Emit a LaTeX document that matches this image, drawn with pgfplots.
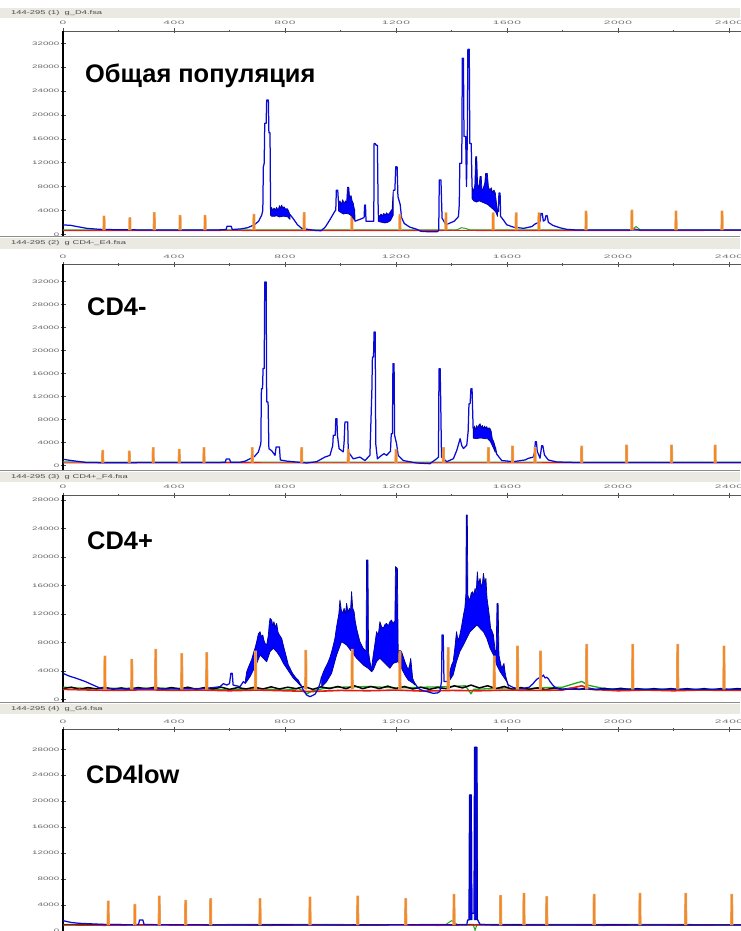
\documentclass[border=0pt]{standalone}
\usepackage{fontspec}
\setmainfont{Liberation Sans}
\newfontfamily\ytickfont[FakeStretch=1.95]{Liberation Sans}
\newfontfamily\xtickfont[FakeStretch=2.4,LetterSpace=10]{Liberation Sans}
\newfontfamily\hdrfont[FakeStretch=1.7]{Liberation Sans}
\usepackage{pgfplots}
\pgfplotsset{compat=1.18}

\definecolor{trace}{RGB}{10,10,215}
\definecolor{tracedark}{RGB}{0,0,150}
\definecolor{bandfill}{RGB}{0,0,255}
\definecolor{sizestd}{RGB}{250,135,30}
\definecolor{sizeedge}{RGB}{220,170,120}
\definecolor{hdr}{RGB}{234,234,226}
\definecolor{basered}{RGB}{225,30,20}
\definecolor{basegreen}{RGB}{30,170,30}

\pgfplotsset{
  gelpanel/.style={
    scale only axis, width=693.75pt, xmin=0, xmax=2500,
    axis x line*=top, axis y line*=left, separate axis lines,
    every outer x axis line/.append style={-, draw=black!65, line width=0.6pt},
    every outer y axis line/.append style={-, draw=black, line width=1.4pt},
    xtick={0,400,...,2400}, minor xtick={200,600,...,2200},
    xtick align=center, ytick align=center,
    major tick length=5pt, minor tick length=2.5pt,
    x tick style={draw=black!70, line width=0.6pt},
    y tick style={draw=black!70, line width=0.5pt},
    minor y tick num=1,
    xticklabel style={font=\xtickfont\fontsize{5}{5}\selectfont, text=black!55},
    yticklabel style={font=\ytickfont\fontsize{5}{5}\selectfont, text=black!60, inner sep=1pt},
    /pgf/number format/1000 sep={}, /pgf/number format/assume math mode=true,
    scaled y ticks=false,
    unbounded coords=jump, clip=true,
  },
  blue trace/.style={draw=trace, line width=1.25pt, line join=round},
  blue band/.style={draw=tracedark, line width=0.7pt, fill=bandfill, line join=round},
  size std/.style={draw=sizestd, line width=1.1pt, preaction={draw=sizeedge, line width=2.2pt}},
  red base/.style={draw=basered, line width=1.1pt},
  green base/.style={draw=basegreen, line width=1pt},
  black base/.style={draw=black, line width=1.5pt},
}

\begin{document}
\begin{tikzpicture}
\useasboundingbox (0pt,0pt) rectangle (740pt,-931pt);
\fill[white] (0pt,0pt) rectangle (740pt,-931pt);
% file header strips
\fill[hdr] (0pt,-8pt) rectangle (740pt,-18pt);
\fill[hdr] (0pt,-238pt) rectangle (740pt,-249pt);
\fill[hdr] (0pt,-472pt) rectangle (740pt,-482pt);
\fill[hdr] (0pt,-704pt) rectangle (740pt,-714pt);
\node[anchor=west, inner sep=0pt, text=black!70, font=\hdrfont\fontsize{5.5}{6}\selectfont] at (11pt,-13pt) {144-295 (1)\ \ g\_D4.fsa};
\node[anchor=west, inner sep=0pt, text=black!70, font=\hdrfont\fontsize{5.5}{6}\selectfont] at (11pt,-243.5pt) {144-295 (2)\ \ g CD4-\_E4.fsa};
\node[anchor=west, inner sep=0pt, text=black!70, font=\hdrfont\fontsize{5.5}{6}\selectfont] at (11pt,-477pt) {144-295 (3)\ \ g CD4+\_F4.fsa};
\node[anchor=west, inner sep=0pt, text=black!70, font=\hdrfont\fontsize{5.5}{6}\selectfont] at (11pt,-709pt) {144-295 (4)\ \ g\_G4.fsa};

% ---------------- panel 1: total population ----------------
\begin{axis}[gelpanel, at={(63pt,-31pt)}, anchor=north west,
  height=205pt, ymin=-285, ymax=34060, ytick={0,4000,...,32000}]
\addplot[green base] coordinates {(0,760)(400,740)(800,760)(1200,740)(1420,760)(1435,1100)(1450,1000)(1465,760)(2050,760)(2065,1300)(2080,760)(2500,750)};
\addplot[red base] coordinates {(0,620)(200,640)(400,620)(600,650)(800,630)(1000,640)(1200,620)(1400,650)(1600,640)(1800,630)(2040,640)(2060,900)(2080,640)(2500,650)};
\addplot[size std] coordinates {(1039,700)(1040,3200)(1042,3200)(1043,700)};
\addplot[blue trace] coordinates {
(0,1560)(25,1520)(50,1300)(85,1000)(133,830)(200,760)(300,730)(450,720)(560,730)(588,800)(591,1350)(606,1350)(610,800)(640,900)(665,1100)(690,1600)(705,2200)(716,3200)(720,4000)(722,11300)(725,11900)(727,18600)(732,18600)(734,22500)(740,22500)(742,17000)(746,17000)(748,4200)
(780,nan)
(818,3300)(830,2600)(845,1600)(860,1000)(880,840)(910,650)(930,600)(945,1200)(960,2300)(975,3500)(983,4100)(985,7400)(990,7400)(993,5200)
(1020,nan)
(1050,4200)(1052,2200)(1070,2500)(1085,2800)(1087,4900)(1090,4900)(1092,2200)(1110,2200)(1120,2200)(1121,15200)(1125,15200)(1129,14900)(1133,14900)(1136,3300)
(1160,nan)
(1190,7400)(1196,7400)(1199,11300)(1204,11300)(1207,6300)(1215,5000)(1220,2800)(1230,1800)(1250,1200)(1275,840)(1290,500)(1320,420)(1350,450)(1354,700)(1356,9100)(1362,9100)(1366,2700)(1380,1600)(1395,1900)(1410,2200)(1425,2960)(1428,5000)(1430,11900)(1437,11900)(1439,29500)(1443,29500)(1445,16400)(1451,16400)(1454,8000)(1457,16000)(1459,31000)(1464,31000)(1466,15200)(1471,15200)(1474,8000)
(1520,nan)
(1566,4000)(1569,3800)(1571,6900)(1575,6900)(1577,3000)(1587,2400)(1599,1600)(1623,1200)(1660,1000)(1690,1300)(1700,1700)(1719,2100)(1722,3500)(1727,3500)(1731,2200)(1737,2400)(1740,3100)(1745,3100)(1749,2000)(1765,1500)(1790,1100)(1815,830)(1850,720)(2000,700)(2500,700)};
\addplot[blue band] coordinates {(748,4200)(752,4500)(756,3900)(760,4400)(765,4100)(770,4500)(775,4000)(780,4800)(784,4400)(788,4900)(792,4400)(797,4600)(802,4200)(808,4300)(812,4000)(818,3300)(818,2500)(810,2900)(800,3000)(790,3000)(780,2900)(770,3100)(760,3000)(752,3000)(748,3200)} --cycle;
\addplot[blue band] coordinates {(993,5200)(998,5600)(1003,5000)(1008,5800)(1013,5100)(1018,5600)(1022,5200)(1025,7900)(1030,7900)(1033,6000)(1038,6500)(1042,5600)(1046,5200)(1050,4200)(1050,2400)(1040,3100)(1030,3400)(1020,3500)(1010,3400)(1000,3700)(993,3900)} --cycle;
\addplot[blue band] coordinates {(1136,3300)(1141,3000)(1146,3400)(1151,3100)(1156,3500)(1161,3200)(1166,3600)(1171,3300)(1176,3500)(1181,3900)(1186,4200)(1190,7400)(1190,3200)(1180,2300)(1170,2000)(1160,1900)(1150,2000)(1140,2100)(1136,2200)} --cycle;
\addplot[blue band] coordinates {(1474,8000)(1479,7200)(1484,8200)(1487,13000)(1491,13000)(1494,8500)(1498,7600)(1503,9700)(1507,9700)(1510,7200)(1515,7800)(1520,8600)(1523,10200)(1529,10200)(1533,8000)(1538,7300)(1543,7800)(1548,7000)(1553,7400)(1558,6900)(1562,5200)(1566,4000)(1566,3000)(1560,3700)(1550,4200)(1540,4600)(1530,5000)(1520,5200)(1510,5400)(1500,5600)(1490,5400)(1480,5600)(1474,6000)} --cycle;
\addplot[size std] coordinates {
(146,700)(147,2960)(149,2960)(150,700)(150,nan)
(239,700)(240,2680)(242,2680)(243,700)(243,nan)
(327,700)(328,3520)(330,3520)(331,700)(331,nan)
(420,700)(421,3070)(423,3070)(424,700)(424,nan)
(510,700)(511,3070)(513,3070)(514,700)(514,nan)
(686,700)(687,3240)(689,3240)(690,700)(690,nan)
(867,700)(868,3520)(870,3520)(871,700)(871,nan)
(1212,700)(1213,3240)(1215,3240)(1216,700)(1216,nan)
(1378,700)(1379,3500)(1381,3500)(1382,700)(1382,nan)
(1548,700)(1549,3500)(1551,3500)(1552,700)(1552,nan)
(1631,700)(1632,3500)(1634,3500)(1635,700)(1635,nan)
(1713,700)(1714,3500)(1716,3500)(1717,700)(1717,nan)
(1883,700)(1884,3800)(1886,3800)(1887,700)(1887,nan)
(2048,700)(2049,3960)(2051,3960)(2052,700)(2052,nan)
(2207,700)(2208,3800)(2210,3800)(2211,700)(2211,nan)
(2373,700)(2374,3800)(2376,3800)(2377,700)};
\end{axis}

% ---------------- panel 2: CD4- ----------------
\begin{axis}[gelpanel, at={(63pt,-264.3pt)}, anchor=north west,
  height=206.7pt, ymin=-922, ymax=35026, ytick={0,4000,...,32000}]
\addplot[green base] coordinates {(0,650)(400,620)(800,640)(1200,620)(1600,640)(2000,630)(2500,620)};
\addplot[red base] coordinates {(0,500)(300,480)(600,520)(900,480)(1200,500)(1500,490)(1800,510)(2100,500)(2500,500)};
\addplot[blue trace] coordinates {
(0,1110)(30,900)(84,560)(150,520)(300,540)(450,550)(560,560)(585,600)(588,1160)(600,1160)(604,600)(640,620)(657,800)(674,1220)(690,1600)(704,2380)(713,3830)(715,13400)(719,13400)(721,16900)(725,16900)(727,31950)(732,31950)(734,11080)(739,11080)(742,2960)(752,2600)(764,1810)(768,3250)(780,3250)(783,1000)(806,800)(850,600)(878,470)(914,700)(944,1510)(962,1800)(972,3500)(974,5280)(981,5280)(983,8180)(987,8180)(989,5280)(995,2960)(1010,2400)(1013,4120)(1016,7600)(1026,7600)(1028,2400)(1046,1200)(1070,1500)(1088,900)(1106,1800)(1113,13000)(1115,18900)(1119,18900)(1121,23250)(1125,23250)(1127,3830)(1133,1200)(1148,1800)(1157,2090)(1166,1800)(1180,2500)(1183,5570)(1187,5570)(1189,17750)(1193,17750)(1195,5280)(1202,3830)(1208,1800)(1226,900)(1274,470)(1322,350)(1347,1220)(1353,1500)(1355,16875)(1359,16875)(1361,11600)(1364,1500)(1383,700)(1407,1220)(1419,2670)(1431,4700)(1437,3500)(1443,3000)(1455,3550)(1460,6000)(1463,10790)(1467,10790)(1470,13400)(1474,13400)(1478,6400)
(1500,nan)
(1558,3200)(1563,2000)(1581,900)(1623,700)(1665,1000)(1677,1280)(1695,1500)(1700,2500)(1702,4180)(1706,4180)(1709,2500)(1719,1300)(1725,3480)(1729,3480)(1735,1850)(1749,1000)(1779,650)(1850,560)(2500,550)};
\addplot[blue band] coordinates {(1478,6400)(1483,6900)(1487,6200)(1491,7000)(1495,6500)(1499,7100)(1503,7310)(1507,6600)(1511,7000)(1515,6400)(1519,6900)(1523,6500)(1527,6800)(1531,6300)(1535,6600)(1539,6440)(1543,6000)(1547,4700)(1552,4200)(1558,3200)(1558,2300)(1550,3200)(1540,4200)(1530,4700)(1520,4700)(1510,4800)(1500,4800)(1490,4700)(1478,4800)} --cycle;
\addplot[size std] coordinates {
(141,550)(142,2560)(144,2560)(145,550)(145,nan)
(237,550)(238,2440)(240,2440)(241,550)(241,nan)
(323,550)(324,3020)(326,3020)(327,550)(327,nan)
(417,550)(418,2730)(420,2730)(421,550)(421,nan)
(506,550)(507,3020)(509,3020)(510,550)(510,nan)
(680,550)(681,3020)(683,3020)(684,550)(684,nan)
(858,550)(859,3020)(861,3020)(862,550)(862,nan)
(1026,550)(1027,2730)(1029,2730)(1030,550)(1030,nan)
(1198,550)(1199,2730)(1201,2730)(1202,550)(1202,nan)
(1369,550)(1370,3020)(1372,3020)(1373,550)(1373,nan)
(1531,550)(1532,3020)(1534,3020)(1535,550)(1535,nan)
(1618,550)(1619,3310)(1621,3310)(1622,550)(1622,nan)
(1699,550)(1700,3020)(1702,3020)(1703,550)(1703,nan)
(1867,550)(1868,3310)(1870,3310)(1871,550)(1871,nan)
(2029,550)(2030,3480)(2032,3480)(2033,550)(2033,nan)
(2191,550)(2192,3480)(2194,3480)(2195,550)(2195,nan)
(2348,550)(2349,3480)(2351,3480)(2352,550)};
\end{axis}

% ---------------- panel 3: CD4+ ----------------
\begin{axis}[gelpanel, at={(63pt,-495pt)}, anchor=north west,
  height=207pt, ymin=-379, ymax=28702, ytick={0,4000,...,28000}]
\addplot[green base, line width=1.3pt] coordinates {(0,1700)(100,1500)(300,1600)(500,1500)(600,1300)(700,1500)(800,1300)(850,1500)(880,800)(900,1200)(950,1600)(1000,1700)(1100,1800)(1200,1600)(1300,1700)(1400,1800)(1450,1900)(1470,800)(1480,1400)(1600,1600)(1650,1300)(1700,1600)(1800,1700)(1850,2300)(1870,2500)(1890,2000)(1950,1500)(2100,1450)(2300,1400)(2500,1400)};
\addplot[black base] coordinates {(0,1500)(30,1700)(60,1400)(90,1650)(120,1450)(150,1700)(180,1400)(210,1600)(240,1350)(270,1650)(300,1450)(330,1700)(360,1400)(390,1650)(420,1450)(450,1700)(480,1400)(510,1650)(540,1450)(570,1700)(600,1400)(630,1650)(660,1450)(690,1700)(720,1450)(750,1750)(780,1450)(810,1700)(840,1500)(870,1800)(900,1400)(930,1750)(960,1500)(990,1800)(1020,1500)(1050,1900)(1080,1500)(1110,1800)(1140,1500)(1170,1850)(1200,1500)(1230,1800)(1260,1450)(1290,1700)(1320,1400)(1350,1650)(1380,1500)(1410,1900)(1440,1600)(1470,2000)(1500,1600)(1530,1900)(1560,1500)(1590,1800)(1620,1400)(1650,1650)(1680,1400)(1710,1600)(1740,1350)(1770,1600)(1800,1400)(1830,1550)(1860,1400)(1890,1600)(1920,1350)(1950,1550)(1980,1350)(2010,1550)(2040,1350)(2070,1500)(2100,1300)(2130,1500)(2160,1300)(2190,1500)(2220,1350)(2250,1500)(2280,1300)(2310,1500)(2340,1300)(2370,1500)(2400,1350)(2430,1500)(2460,1400)};
\addplot[red base, line width=1.6pt] coordinates {(0,1400)(100,1300)(200,1250)(300,1350)(400,1250)(500,1300)(600,1200)(700,1300)(800,1200)(900,1100)(1000,1250)(1100,1200)(1200,1300)(1300,1150)(1400,1250)(1500,1200)(1600,1300)(1700,1250)(1800,1300)(1870,1900)(1900,1400)(2000,1200)(2100,1300)(2200,1200)(2300,1300)(2400,1250)(2500,1300)};
\addplot[blue trace] coordinates {
(0,3650)(20,3300)(48,2950)(80,2500)(108,2010)(132,1600)(200,1450)(300,1500)(400,1450)(500,1500)(541,1650)(566,1780)(578,2200)(590,2000)(600,2200)(605,3650)(610,3650)(613,2000)(638,1780)(650,2480)(656,2300)
(700,nan)
(856,2100)(866,1300)(878,600)(890,370)(908,700)(920,1540)(926,2200)(932,3180)
(1000,nan)
(1268,2240)(1280,1540)(1292,1300)(1310,1100)(1334,840)(1350,900)(1358,1100)(1364,2500)(1366,9030)(1370,9030)(1373,2500)(1388,2500)(1394,3880)
(1500,nan)
(1605,2010)(1623,1650)(1640,1500)(1660,1550)(1680,1700)(1695,2240)(1700,2500)(1707,2800)(1715,3000)(1723,3100)(1731,3410)(1737,3000)(1743,3100)(1749,2900)(1755,2500)(1765,2000)(1773,1700)(1791,1400)(1850,1400)(2500,1400)};
\addplot[blue band] coordinates {(656,2300)(662,3880)(668,4500)(674,5050)(680,5600)(686,6460)(692,7200)(698,8100)(704,9200)(710,9500)(715,8800)(720,9030)(724,8300)(728,7860)(734,7630)(740,9000)(743,10500)(746,11370)(752,11140)(756,10300)(760,10900)(765,10100)(770,10670)(775,9400)(780,9030)(788,8570)(794,7600)(800,6690)(806,5800)(812,4820)(818,4400)(824,3880)(830,3500)(836,3180)(842,2900)(848,2710)(854,2240)(856,2100)(856,1900)(854,2010)(842,2480)(830,2950)(818,3650)(806,4350)(794,5050)(782,5990)(770,6690)(758,7160)(746,6690)(734,5280)(722,5755)(710,6220)(698,5050)(686,4120)(674,3180)(662,2480)(656,2200)} --cycle;
\addplot[blue band] coordinates {(932,3180)(938,3800)(944,4350)(950,4800)(956,5290)(962,5900)(968,6690)(974,7600)(980,8570)(985,10000)(989,10900)(994,12000)(998,13950)(1003,12500)(1008,12080)(1013,12800)(1018,12000)(1022,13480)(1027,12200)(1032,12780)(1036,12400)(1040,15120)(1044,12800)(1049,12310)(1053,11000)(1058,9970)(1064,9000)(1070,8100)(1076,7600)(1082,7160)(1088,6900)(1092,6690)(1094,19570)(1099,19570)(1101,6690)(1106,5290)(1112,4350)(1112,3880)(1100,4350)(1082,4820)(1058,5755)(1040,6690)(1022,7630)(1004,8100)(986,6220)(968,3650)(950,2480)(932,1780)} --cycle;
\addplot[blue band] coordinates {(1112,4350)(1118,6220)(1124,7800)(1130,9500)(1136,9000)(1142,10900)(1148,10200)(1154,9970)(1160,10500)(1166,10670)(1172,10300)(1178,10900)(1184,11140)(1189,10600)(1193,10900)(1196,11000)(1198,18630)(1205,18400)(1208,6690)(1214,6900)(1220,6690)(1226,6000)(1232,5290)(1238,4700)(1244,4120)(1249,4800)(1253,5755)(1257,4200)(1260,2950)(1268,2240)(1268,2000)(1262,2240)(1244,2710)(1232,3420)(1220,4350)(1208,5290)(1190,5050)(1178,4350)(1166,4820)(1154,5290)(1142,5755)(1130,5290)(1118,4120)(1112,3880)} --cycle;
\addplot[blue band] coordinates {(1394,3880)(1400,4800)(1406,5290)(1412,7200)(1418,9500)(1424,8200)(1430,9030)(1436,10200)(1443,11840)(1448,12800)(1452,14890)(1453,25890)(1457,25890)(1459,14650)(1463,14000)(1467,14180)(1471,14900)(1476,15120)(1480,14600)(1485,15590)(1489,14900)(1493,17930)(1497,16200)(1503,16990)(1508,15600)(1512,16500)(1515,17700)(1520,16300)(1524,16990)(1528,14200)(1533,12780)(1537,11500)(1541,9970)(1546,9600)(1551,9030)(1555,7600)(1558,6220)(1561,7000)(1564,13480)(1568,13480)(1571,6220)(1576,5200)(1581,4350)(1585,4700)(1589,5050)(1593,3800)(1596,3180)(1600,2600)(1605,2010)(1605,1800)(1599,2480)(1587,3180)(1575,3880)(1563,4820)(1551,6220)(1539,7160)(1527,8570)(1515,9500)(1503,9970)(1491,10440)(1479,9970)(1467,9500)(1455,8570)(1443,7630)(1430,6690)(1418,5290)(1406,3420)(1394,2710)} --cycle;
\addplot[size std] coordinates {
(149,1400)(150,5990)(152,5990)(153,1400)(153,nan)
(246,1400)(247,5520)(249,5520)(250,1400)(250,nan)
(332,1400)(333,6925)(335,6925)(336,1400)(336,nan)
(426,1400)(427,6320)(429,6320)(430,1400)(430,nan)
(516,1400)(517,6460)(519,6460)(520,1400)(520,nan)
(692,1400)(693,6690)(695,6690)(696,1400)(696,nan)
(873,1400)(874,6790)(876,6790)(877,1400)(877,nan)
(1040,1400)(1041,6930)(1043,6930)(1044,1400)(1044,nan)
(1212,1400)(1213,6690)(1215,6690)(1216,1400)(1216,nan)
(1386,1400)(1387,7160)(1389,7160)(1390,1400)(1390,nan)
(1552,1400)(1553,5990)(1555,5990)(1556,1400)(1556,nan)
(1636,1400)(1637,7390)(1639,7390)(1640,1400)(1640,nan)
(1719,1400)(1720,6690)(1722,6690)(1723,1400)(1723,nan)
(1885,1400)(1886,7630)(1888,7630)(1889,1400)(1889,nan)
(2051,1400)(2052,7630)(2054,7630)(2055,1400)(2055,nan)
(2213,1400)(2214,7630)(2216,7630)(2217,1400)(2217,nan)
(2380,1400)(2381,7400)(2383,7400)(2384,1400)};
\end{axis}

% ---------------- panel 4: CD4low ----------------
\begin{axis}[gelpanel, at={(63pt,-729.3pt)}, anchor=north west,
  height=210.7pt, ymin=-1403, ymax=31087, ytick={0,4000,...,28000}]
\addplot[green base] coordinates {(0,1000)(400,980)(800,1000)(1200,980)(1380,1000)(1401,1600)(1420,1000)(1478,1000)(1485,100)(1492,1000)(2000,1000)(2500,980)};
\addplot[black base, line width=1pt] coordinates {(0,950)(200,900)(400,980)(600,920)(800,960)(1000,900)(1200,960)(1400,920)(1600,960)(1800,920)(2000,960)(2200,910)(2500,950)};
\addplot[red base] coordinates {(0,900)(150,840)(300,920)(450,850)(600,910)(750,840)(900,920)(1050,850)(1200,900)(1350,840)(1500,920)(1650,850)(1800,900)(1950,840)(2100,910)(2250,850)(2400,900)(2500,880)};
\addplot[blue trace] coordinates {(0,1580)(30,1300)(60,1170)(97,1100)(150,1000)(250,950)(272,1000)(276,1680)(288,1680)(292,1000)(350,950)(600,920)(1000,920)(1455,950)(1458,1680)(1463,1700)(1465,20960)(1471,20960)(1473,2710)(1481,2710)(1483,28310)(1491,28310)(1493,1800)(1503,1000)(1550,920)(2500,920)};
\addplot[blue band] coordinates {(1464,1700)(1466,20960)(1472,20960)(1474,1700)} --cycle;
\addplot[blue band] coordinates {(1482,1700)(1484,28310)(1492,28310)(1494,1700)} --cycle;
\addplot[size std] coordinates {
(161,900)(162,4510)(164,4510)(165,900)(165,nan)
(257,900)(258,3990)(260,3990)(261,900)(261,nan)
(345,900)(346,5280)(348,5280)(349,900)(349,nan)
(440,900)(441,4610)(443,4610)(444,900)(444,nan)
(530,900)(531,4870)(533,4870)(534,900)(534,nan)
(708,900)(709,4870)(711,4870)(712,900)(712,nan)
(888,900)(889,5125)(891,5125)(892,900)(892,nan)
(1060,900)(1061,5280)(1063,5280)(1064,900)(1064,nan)
(1233,900)(1234,4870)(1236,4870)(1237,900)(1237,nan)
(1407,900)(1408,5540)(1410,5540)(1411,900)(1411,nan)
(1575,900)(1576,5380)(1578,5380)(1579,900)(1579,nan)
(1659,900)(1660,5690)(1662,5690)(1663,900)(1663,nan)
(1741,900)(1742,5180)(1744,5180)(1745,900)(1745,nan)
(1912,900)(1913,5540)(1915,5540)(1916,900)(1916,nan)
(2077,900)(2078,5690)(2080,5690)(2081,900)(2081,nan)
(2242,900)(2243,5690)(2245,5690)(2246,900)(2246,nan)
(2408,900)(2409,5540)(2411,5540)(2412,900)};
\end{axis}

% panel separators
\draw[black!45, line width=1pt] (0pt,-236.5pt) -- (740pt,-236.5pt);
\draw[black!45, line width=1pt] (0pt,-470.5pt) -- (740pt,-470.5pt);
\draw[black!45, line width=1pt] (0pt,-702.5pt) -- (740pt,-702.5pt);

% sample titles
\node[anchor=base west, inner sep=0pt, font=\bfseries\fontsize{25.4}{26}\selectfont] at (85pt,-83pt) {Общая популяция};
\node[anchor=base west, inner sep=0pt, font=\bfseries\fontsize{25.4}{26}\selectfont] at (87pt,-315pt) {CD4-};
\node[anchor=base west, inner sep=0pt, font=\bfseries\fontsize{25.4}{26}\selectfont] at (87pt,-549pt) {CD4+};
\node[anchor=base west, inner sep=0pt, font=\bfseries\fontsize{25.4}{26}\selectfont] at (86pt,-783pt) {CD4low};
\end{tikzpicture}
\end{document}
